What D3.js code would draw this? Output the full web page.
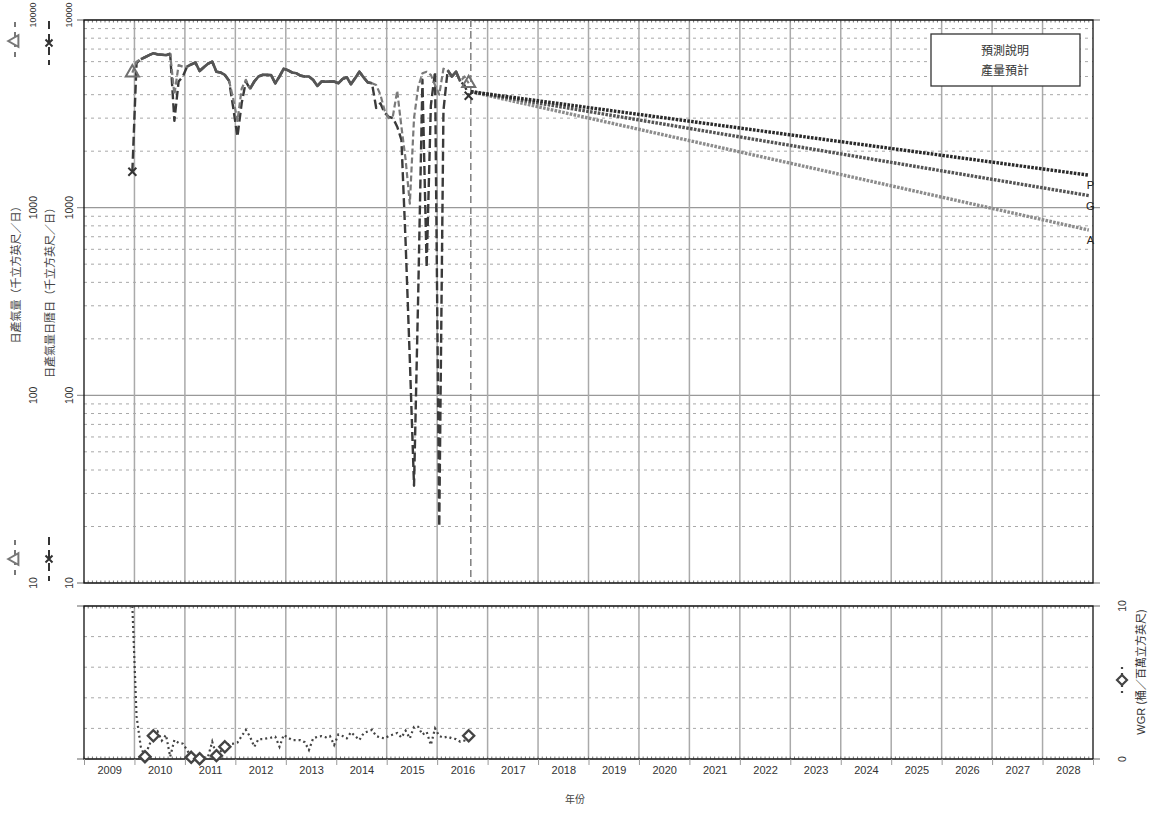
<!DOCTYPE html>
<html><head><meta charset="utf-8">
<script src="https://cdn.jsdelivr.net/npm/d3@7/dist/d3.min.js"></script>
<style>
html,body{margin:0;padding:0;background:#fff;}
svg{display:block;}
text{font-family:"Liberation Sans",Arial,sans-serif;}
.cjk{font-family:"Noto Sans CJK TC","Noto Sans CJK SC",sans-serif;}
</style></head>
<body>
<svg id="chart" width="1151" height="814"></svg>
<script>
// ---------- DATA ----------
const months = ["2009-12",
 "2010-01","2010-02","2010-03","2010-04","2010-05","2010-06","2010-07","2010-08","2010-09","2010-10","2010-11","2010-12",
 "2011-01","2011-02","2011-03","2011-04","2011-05","2011-06","2011-07","2011-08","2011-09","2011-10","2011-11","2011-12",
 "2012-01","2012-02","2012-03","2012-04","2012-05","2012-06","2012-07","2012-08","2012-09","2012-10","2012-11","2012-12",
 "2013-01","2013-02","2013-03","2013-04","2013-05","2013-06","2013-07","2013-08","2013-09","2013-10","2013-11","2013-12",
 "2014-01","2014-02","2014-03","2014-04","2014-05","2014-06","2014-07","2014-08","2014-09","2014-10","2014-11","2014-12",
 "2015-01","2015-02","2015-03","2015-04","2015-05","2015-06","2015-07","2015-08","2015-09","2015-10","2015-11","2015-12",
 "2016-01","2016-02","2016-03","2016-04","2016-05","2016-06","2016-07","2016-08"];

// 日產氣量（千立方英尺／日）
const gasRate = [5240,
 6000,6180,6330,6500,6650,6560,6530,6500,6600,4000,5750,5640,
 5640,5800,5930,5350,5600,5850,6000,5300,5250,5100,4750,3800,
 2900,4300,4800,4300,4700,5000,5100,5100,5090,4600,5000,5500,
 5400,5250,5200,5050,5000,5000,4800,4450,4700,4700,4700,4700,
 4600,4850,4950,4550,4900,5300,4950,4650,4600,4500,4000,3300,
 3000,3100,4200,2700,1800,1050,3000,4400,5200,5300,5100,4500,
 4000,5500,5400,5000,5300,4700,5000,4600];

// 日產氣量日曆日（千立方英尺／日）
const gasRateCal = [1555,
 5900,6180,6330,6500,6650,6560,6530,6500,6600,2900,4700,5000,
 5640,5800,5930,5350,5600,5850,6000,5300,5250,5100,4750,3400,
 2390,3600,4700,4300,4700,5000,5100,5100,5090,4600,5000,5500,
 5400,5250,5200,5050,5000,5000,4800,4450,4700,4700,4700,4700,
 4600,4850,4950,4550,4900,5300,4950,4650,4600,3400,3600,3200,
 3050,3000,2700,2300,650,155,33,350,4800,480,3500,5300,
 20,3300,5400,5000,5300,4700,4500,3950];

// WGR（桶／百萬立方英尺）
const wgr = [10,
 2.8,0.8,0.15,0.9,1.52,1.8,1.2,1.57,0.15,1.24,1.05,1.0,
 0.6,0.11,0.08,0.02,0.1,0.15,1.13,0.22,0.5,0.8,0.98,1.0,
 1.07,1.5,1.9,1.46,0.8,1.29,1.3,1.35,1.4,1.46,0.8,1.57,
 1.4,1.24,1.24,1.24,1.1,0.59,1.35,1.45,1.5,1.42,1.5,0.92,
 1.6,1.5,1.35,1.75,1.5,1.24,1.68,1.8,1.9,1.5,1.4,1.35,
 1.5,1.6,1.7,1.4,1.85,1.35,2.1,2.1,1.6,1.78,0.92,2.0,
 1.5,1.4,1.46,1.35,1.3,1.13,1.2,1.52];
const wgrMarkerIdx = [3,5,14,16,20,22,80];

// 預測 (forecast) — decimal years
const forecastYears = [2016.667, 2028.917];
const forecastP = [4150, 1490];
const forecastG = [4150, 1160];
const forecastA = [4150, 760];

const years = d3.range(2009, 2029);         // year labels 2009..2028
const yTicks = [10, 100, 1000, 10000];
const wgrTicks = [0, 10];

// ---------- LAYOUT ----------
const svg = d3.select("#chart");
const L = 84, R = 1093, T1 = 20, B1 = 583, T2 = 606, B2 = 759;
const x = d3.scaleLinear().domain([2009, 2029]).range([L, R]);
const yTop = d3.scaleLog().domain([10, 10000]).range([B1, T1]);
const yBot = d3.scaleLinear().domain([0, 10]).range([B2, T2]);
const toYear = s => +s.slice(0,4) + (+s.slice(5) - 0.5) / 12;
const mx = months.map(toYear);

const defs = svg.append("defs");
defs.append("clipPath").attr("id","c1").append("rect").attr("x",L).attr("y",T1).attr("width",R-L).attr("height",B1-T1);
defs.append("clipPath").attr("id","c2").append("rect").attr("x",L).attr("y",T2-2).attr("width",R-L).attr("height",B2-T2+2);

// ---------- GRID: TOP ----------
const g1 = svg.append("g");
const minor = [];
[10,100,1000].forEach(d => { for (let k=2;k<=9;k++) minor.push(d*k); });
g1.selectAll(".mn").data(minor).join("line")
  .attr("x1",L).attr("x2",R).attr("y1",d=>yTop(d)).attr("y2",d=>yTop(d))
  .attr("stroke","#a8a8a8").attr("stroke-width",1).attr("stroke-dasharray","3,4");
g1.selectAll(".mj").data(yTicks).join("line")
  .attr("x1",L-7).attr("x2",R+7).attr("y1",d=>yTop(d)).attr("y2",d=>yTop(d))
  .attr("stroke","#999").attr("stroke-width",1.3);
g1.selectAll(".vy").data(d3.range(2010, 2029)).join("line")
  .attr("x1",d=>x(d)).attr("x2",d=>x(d)).attr("y1",T1).attr("y2",B1)
  .attr("stroke","#aaa").attr("stroke-width",1.5);

// ---------- GRID: BOTTOM ----------
const g2 = svg.append("g");
g2.selectAll(".bh").data([2,4,6,8]).join("line")
  .attr("x1",L).attr("x2",R).attr("y1",d=>yBot(d)).attr("y2",d=>yBot(d))
  .attr("stroke","#a8a8a8").attr("stroke-width",1).attr("stroke-dasharray","3,4");
g2.selectAll(".vy").data(d3.range(2010, 2029)).join("line")
  .attr("x1",d=>x(d)).attr("x2",d=>x(d)).attr("y1",T2).attr("y2",B2)
  .attr("stroke","#aaa").attr("stroke-width",1.5);
g2.selectAll(".bt").data(wgrTicks).join("line")
  .attr("x1",L-7).attr("x2",R+7).attr("y1",d=>yBot(d)).attr("y2",d=>yBot(d))
  .attr("stroke","#999").attr("stroke-width",1.3);

// monthly minor ticks on borders
const monthTicks = d3.range(2009, 2029, 1/12);
[[T1,1],[B1,-1],[T2,1],[B2,-1]].forEach(([yy,dir]) => {
  svg.append("g").selectAll("line").data(monthTicks).join("line")
    .attr("x1",d=>x(d)).attr("x2",d=>x(d)).attr("y1",yy).attr("y2",yy+dir*2.5)
    .attr("stroke","#777").attr("stroke-width",1);
});

// frames
svg.append("rect").attr("x",L).attr("y",T1).attr("width",R-L).attr("height",B1-T1)
  .attr("fill","none").attr("stroke","#111").attr("stroke-width",1.3);
svg.append("rect").attr("x",L).attr("y",T2).attr("width",R-L).attr("height",B2-T2)
  .attr("fill","none").attr("stroke","#111").attr("stroke-width",1.3);

// forecast start vertical dashed line
svg.append("line").attr("x1",x(forecastYears[0])).attr("x2",x(forecastYears[0]))
  .attr("y1",T1).attr("y2",B1).attr("stroke","#808080").attr("stroke-width",1.5)
  .attr("stroke-dasharray","7,4");

// ---------- SERIES: TOP ----------
const p1 = svg.append("g").attr("clip-path","url(#c1)");
const lineGen = d3.line().x((d,i)=>x(mx[i])).y(d=>yTop(d));
p1.append("path").attr("d", lineGen(gasRateCal))
  .attr("fill","none").attr("stroke","#3a3a3a").attr("stroke-width",2.4)
  .attr("stroke-dasharray","9,4").attr("stroke-linejoin","round");
p1.append("path").attr("d", lineGen(gasRate))
  .attr("fill","none").attr("stroke","#7a7a7a").attr("stroke-width",2.2)
  .attr("stroke-dasharray","6,3").attr("stroke-linejoin","round");
// where the two series coincide they render as one continuous line
const overlap = d3.line().defined((d,i)=>gasRate[i]===gasRateCal[i])
  .x((d,i)=>x(mx[i])).y(d=>yTop(d));
p1.append("path").attr("d", overlap(gasRate))
  .attr("fill","none").attr("stroke","#555").attr("stroke-width",2.7).attr("stroke-linejoin","round");

// forecast lines
const fcSeries = [[forecastA,"#8c8c8c"],[forecastG,"#555"],[forecastP,"#2a2a2a"]];
fcSeries.forEach(([vals,col]) => {
  p1.append("path").attr("d", d3.line().x((d,i)=>x(forecastYears[i])).y(d=>yTop(d))(vals))
    .attr("fill","none").attr("stroke",col).attr("stroke-width",3.4).attr("stroke-dasharray","2.6,1.3");
});
[[forecastP,"P"],[forecastG,"G"],[forecastA,"A"]].forEach(([vals,lab]) => {
  svg.append("text").attr("x",x(forecastYears[1])+1.5).attr("y",yTop(vals[1])+14)
    .attr("text-anchor","middle").attr("font-family","'Liberation Serif',serif")
    .attr("font-size",11).attr("fill","#222").text(lab);
});

// markers top
const tri = d3.symbol().type(d3.symbolTriangle).size(75);
[0, gasRate.length-1].forEach(i => {
  svg.append("path").attr("d",tri()).attr("transform",`translate(${x(mx[i])},${yTop(gasRate[i])})`)
    .attr("fill","none").attr("stroke","#707070").attr("stroke-width",2);
});
const crossPath = s => `M${-s},${-s}L${s},${s}M${-s},${s}L${s},${-s}`;
[0, gasRateCal.length-1].forEach(i => {
  svg.append("path").attr("d",crossPath(4)).attr("transform",`translate(${x(mx[i])},${yTop(gasRateCal[i])})`)
    .attr("fill","none").attr("stroke","#333").attr("stroke-width",2);
});

// ---------- SERIES: BOTTOM ----------
const p2 = svg.append("g").attr("clip-path","url(#c2)");
p2.append("path").attr("d", d3.line().x((d,i)=>x(mx[i])).y(d=>yBot(d))(wgr))
  .attr("fill","none").attr("stroke","#444").attr("stroke-width",2.2).attr("stroke-dasharray","2,3");
const diaPath = s => `M0,${-s}L${s},0L0,${s}L${-s},0Z`;
wgrMarkerIdx.forEach(i => {
  svg.append("path").attr("d",diaPath(5.5)).attr("transform",`translate(${x(mx[i])},${yBot(wgr[i])})`)
    .attr("fill","#fff").attr("stroke","#444").attr("stroke-width",2.4);
});

// ---------- X AXIS ----------
const xa = svg.append("g").attr("transform",`translate(0,${B2})`)
  .call(d3.axisBottom(x).tickValues(years.map(y=>y+0.5)).tickFormat(d=>String(Math.floor(d))).tickSize(0).tickPadding(7));
xa.select(".domain").remove();
xa.selectAll("text").attr("font-size",11).attr("fill","#333").attr("font-family","'Liberation Sans',Arial,sans-serif");
const xt = svg.append("g").attr("transform",`translate(0,${B2})`)
  .call(d3.axisBottom(x).tickValues(d3.range(2009, 2030)).tickFormat("").tickSize(6));
xt.select(".domain").remove();
xt.selectAll("line").attr("stroke","#999");
svg.append("text").attr("class","cjk").attr("x",575).attr("y",803).attr("text-anchor","middle")
  .attr("font-size",10).attr("fill","#444").text("年份");

// ---------- LEFT Y LABELS ----------
const rotText = (cx, cy, txt, size, cls, col) => svg.append("text").attr("class",cls||null)
  .attr("transform",`translate(${cx},${cy}) rotate(-90)`).attr("text-anchor","middle")
  .attr("dy","0.35em").attr("font-size",size).attr("fill",col||"#333").text(txt);
[33, 69].forEach(cx => {
  yTicks.forEach(v => {
    if (v === 10000) {
      rotText(cx, yTop(v) - 5, String(v), 9);
    } else {
      rotText(cx, yTop(v), String(v), 10.5);
    }
  });
});
rotText(16, 272, "日產氣量（千立方英尺／日）", 11, "cjk", "#444");
rotText(50, 290, "日產氣量日曆日（千立方英尺／日）", 11, "cjk", "#444");

// legend symbols on left axis
function legendTri(cx, cy) {
  svg.append("line").attr("x1",cx).attr("x2",cx).attr("y1",cy-19).attr("y2",cy+19)
    .attr("stroke","#777").attr("stroke-width",2).attr("stroke-dasharray","5,5");
  svg.append("path").attr("d",d3.symbol().type(d3.symbolTriangle).size(60)())
    .attr("transform",`translate(${cx},${cy}) rotate(-90)`)
    .attr("fill","#fff").attr("stroke","#777").attr("stroke-width",2);
}
function legendCross(cx, cy) {
  svg.append("line").attr("x1",cx).attr("x2",cx).attr("y1",cy-22).attr("y2",cy+22)
    .attr("stroke","#333").attr("stroke-width",2).attr("stroke-dasharray","8,5");
  svg.append("path").attr("d",crossPath(3.5)).attr("transform",`translate(${cx},${cy})`)
    .attr("stroke","#333").attr("stroke-width",2);
}
legendTri(15, 41); legendTri(15, 559);
legendCross(49, 43); legendCross(49, 559);

// ---------- RIGHT Y LABELS (WGR) ----------
wgrTicks.forEach(v => rotText(1122, yBot(v), String(v), 10.5));
svg.append("line").attr("x1",1122).attr("x2",1122).attr("y1",667).attr("y2",693)
  .attr("stroke","#444").attr("stroke-width",2.2).attr("stroke-dasharray","2,4");
svg.append("path").attr("d",diaPath(5))
  .attr("transform",`translate(1122,680)`).attr("fill","#fff").attr("stroke","#444").attr("stroke-width",2.2);
svg.append("text").attr("transform","translate(1141,672) rotate(-90)").attr("text-anchor","middle")
  .attr("dy","0.35em").attr("font-size",11).attr("fill","#333")
  .call(t => { t.append("tspan").text("WGR "); t.append("tspan").attr("class","cjk").text("(桶／百萬立方英尺)"); });

// ---------- LEGEND BOX ----------
svg.append("rect").attr("x",931).attr("y",34).attr("width",149).attr("height",52)
  .attr("fill","#fff").attr("stroke","#333").attr("stroke-width",1.3);
svg.append("text").attr("class","cjk").attr("x",1005).attr("y",55).attr("text-anchor","middle")
  .attr("font-size",12).attr("fill","#333").text("預測說明");
svg.append("text").attr("class","cjk").attr("x",1005).attr("y",75).attr("text-anchor","middle")
  .attr("font-size",12).attr("fill","#333").text("產量預計");
</script>
</body></html>
